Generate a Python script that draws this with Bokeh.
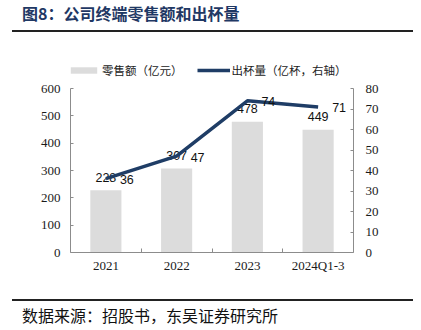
from bokeh.plotting import figure
from bokeh.layouts import column
from bokeh.models import (Range1d, LinearAxis, FixedTicker, Legend, LegendItem,
                          ColumnDataSource, Div)
from bokeh.embed import file_html
from bokeh.resources import INLINE
from bokeh.core.properties import value

categories = ["2021", "2022", "2023", "2024Q1-3"]
retail = [228, 307, 478, 449]          # 零售额（亿元）
cups = [36, 47, 74, 71]                # 出杯量（亿杯）
left_ticks = [0, 100, 200, 300, 400, 500, 600]
right_ticks = [0, 10, 20, 30, 40, 50, 60, 70, 80]
title_text = "图8：公司终端零售额和出杯量"
source_text = "数据来源：招股书，东吴证券研究所"

W = 421
NAVY = "#1F3D66"
AXIS = "#8C8C8C"
TICKTXT = "#1a1a1a"
RULE = "#222222"

# ---------- header ----------
top = Div(width=W, height=40, styles={"margin": "0", "padding": "0"},
          text=('<div style="position:relative;width:%dpx;height:40px;margin:0;padding:0;">'
                '<div style="position:absolute;left:22px;top:3px;white-space:nowrap;'
                'font-family:\'Noto Sans CJK SC\';font-size:16px;font-weight:bold;'
                'line-height:20px;color:#1F3864;">%s</div>'
                '<div style="position:absolute;left:12px;top:30px;width:401px;height:2px;'
                'background:%s;"></div></div>') % (W, title_text, RULE))

# ---------- main chart ----------
H = 250
BORDER_TOP, BORDER_BOTTOM = 16, 38
frame_h = H - BORDER_TOP - BORDER_BOTTOM          # 196 px
axis_h = 164                                      # px spanned by the axes' tick range
left_max, right_max = left_ticks[-1], right_ticks[-1]

xs = [i + 0.5 for i in range(len(categories))]
src = ColumnDataSource(dict(x=xs, retail=retail, cups=cups,
                            rl=[str(v) for v in retail], cl=[str(v) for v in cups]))

p = figure(width=W, height=H, output_backend="svg", toolbar_location=None,
           x_range=Range1d(0, len(categories)),
           y_range=Range1d(0, left_max * frame_h / axis_h),
           min_border_left=70, min_border_right=68,
           min_border_top=BORDER_TOP, min_border_bottom=BORDER_BOTTOM)
p.outline_line_color = None
p.grid.visible = False
p.extra_y_ranges = {"cups": Range1d(0, right_max * frame_h / axis_h)}

xa = p.xaxis[0]
xa.ticker = FixedTicker(ticks=xs, minor_ticks=[1, 2, 3])
xa.major_label_overrides = {x: c for x, c in zip(xs, categories)}
xa.major_tick_in = 0
xa.major_tick_out = 0
xa.minor_tick_in = 4
xa.minor_tick_out = 0
xa.minor_tick_line_color = AXIS
xa.axis_line_color = AXIS
xa.major_label_standoff = 5
xa.major_label_text_font = "Liberation Serif"
xa.major_label_text_font_size = "13px"
xa.major_label_text_color = TICKTXT

ya = p.yaxis[0]
ya.ticker = FixedTicker(ticks=left_ticks)
ya.bounds = (0, left_max)
ya.major_tick_in = 3
ya.major_tick_out = 0
ya.minor_tick_line_color = None
ya.axis_line_color = AXIS
ya.major_tick_line_color = AXIS
ya.major_label_standoff = 10
ya.major_label_text_font = "Liberation Serif"
ya.major_label_text_font_size = "13px"
ya.major_label_text_color = TICKTXT

ra = LinearAxis(y_range_name="cups", ticker=FixedTicker(ticks=right_ticks),
                bounds=(0, right_max))
ra.major_tick_in = 3
ra.major_tick_out = 0
ra.minor_tick_line_color = None
ra.axis_line_color = AXIS
ra.major_tick_line_color = AXIS
ra.major_label_standoff = 12
ra.major_label_text_font = "Liberation Serif"
ra.major_label_text_font_size = "13px"
ra.major_label_text_color = TICKTXT
p.add_layout(ra, "right")

bars = p.vbar(x="x", top="retail", width=0.44, source=src,
              fill_color="#DCDCDC", line_color=None)
p.text(x="x", y="retail", text="rl", source=src, text_align="center",
       text_baseline="alphabetic", y_offset=-13, text_font=value("Liberation Sans"),
       text_font_size="12.5px", text_color="#111111")

ln = p.line(x="x", y="cups", y_range_name="cups", source=src,
            line_color=NAVY, line_width=3.5)
p.text(x="x", y="cups", text="cl", y_range_name="cups", source=src, text_align="left",
       text_baseline="middle", x_offset=14, y_offset=1, text_font=value("Liberation Sans"),
       text_font_size="12.5px", text_color="#111111")

legend = Legend(items=[LegendItem(label="零售额（亿元）", renderers=[bars]),
                       LegendItem(label="出杯量（亿杯，右轴）", renderers=[ln])],
                orientation="horizontal", location=(-3, frame_h - 22),
                glyph_width=33, glyph_height=8, label_standoff=2, spacing=14,
                padding=0, margin=0, border_line_color=None, background_fill_alpha=0,
                label_text_font="Noto Sans CJK SC", label_text_font_size="11.5px",
                label_text_color="#222222")
p.add_layout(legend)

# ---------- footer ----------
bot = Div(width=W, height=40, styles={"margin": "0", "padding": "0"},
          text=('<div style="position:relative;width:%dpx;height:40px;margin:0;padding:0;">'
                '<div style="position:absolute;left:12px;top:9px;width:401px;height:2px;'
                'background:%s;"></div>'
                '<div style="position:absolute;left:22px;top:15px;white-space:nowrap;'
                'font-family:\'Noto Sans CJK SC\';font-size:16px;line-height:20px;'
                'color:#111111;">%s</div></div>') % (W, RULE, source_text))

layout = column(top, p, bot, spacing=0)
open("out.html", "w").write(file_html(layout, INLINE))
